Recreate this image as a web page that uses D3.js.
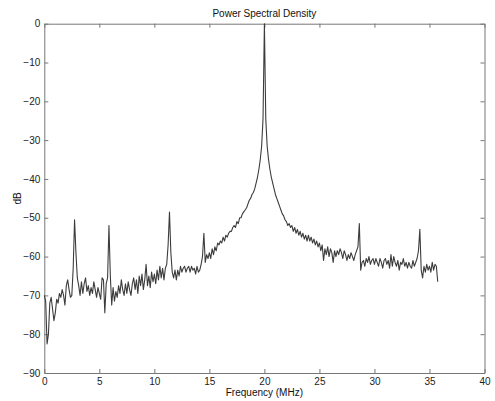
<!DOCTYPE html>
<html>
<head>
<meta charset="utf-8">
<script src="https://cdn.jsdelivr.net/npm/d3@7"></script>
<style>
  body { margin: 0; background: #fff; }
  text { font-family: "Liberation Sans", Arial, Helvetica, sans-serif; }
</style>
</head>
<body>
<div id="chart"></div>
<script>
// Tick values for both axes
var xTicks = [0, 5, 10, 15, 20, 25, 30, 35, 40];
var yTicks = [0, -10, -20, -30, -40, -50, -60, -70, -80, -90];

// PSD samples, one every 0.125 MHz starting at 0 MHz (8 per MHz)
var freqStep = 0.125;
var psdDb = [
  -70.0, -71.5, -82.5, -80.0, -72.0, -70.5, -73.5, -76.5,   // 0
  -74.5, -71.0, -72.0, -69.5, -70.5, -68.5, -70.0, -72.5,   // 1
  -67.5, -66.0, -68.5, -70.5, -70.0, -63.0, -50.5, -59.0,   // 2
  -65.5, -67.5, -70.0, -66.5, -69.5, -67.0, -65.5, -69.0,   // 3
  -67.5, -70.0, -68.0, -69.5, -66.5, -68.5, -70.5, -68.0,   // 4
  -69.5, -71.0, -65.5, -66.0, -74.5, -67.0, -65.5, -52.0,   // 5
  -65.0, -72.5, -68.0, -71.5, -69.0, -70.5, -67.5, -69.5,   // 6
  -66.0, -68.5, -70.0, -67.0, -69.5, -66.5, -68.5, -70.0,   // 7
  -67.0, -65.5, -68.5, -66.0, -69.5, -65.0, -67.5, -64.5,   // 8
  -68.5, -66.0, -62.0, -67.5, -65.0, -68.0, -64.0, -66.5,   // 9
  -64.5, -67.0, -63.5, -66.0, -62.5, -65.5, -63.0, -66.0,   // 10
  -63.0, -62.0, -57.0, -48.5, -59.0, -64.0, -65.5, -63.5,   // 11
  -66.0, -63.5, -65.0, -62.5, -64.0, -63.0, -62.5, -64.0,   // 12
  -63.0, -62.5, -64.0, -62.5, -63.5, -63.0, -64.5, -62.5,   // 13
  -64.0, -63.5, -62.0, -60.0, -54.0, -61.5, -59.5, -60.5,   // 14
  -59.0, -60.5, -58.0, -59.5, -57.5, -58.5, -56.5, -57.0,   // 15
  -56.0, -56.5, -55.0, -56.0, -54.5, -55.0, -54.0, -53.5,   // 16
  -53.5, -52.5, -52.0, -52.5, -51.0, -51.5, -50.0, -50.0,   // 17
  -49.0, -48.5, -48.0, -47.5, -46.5, -45.5, -45.0, -44.0,   // 18
  -43.5, -42.5, -41.0, -39.5, -37.5, -35.0, -31.5, -24.5,   // 19
    0.0, -24.5, -31.5, -35.0, -37.5, -39.5, -41.0, -42.5,   // 20
  -44.0, -45.0, -46.0, -47.0, -48.0, -49.0, -49.5, -50.5,   // 21
  -51.0, -52.0, -51.5, -52.5, -52.0, -53.5, -52.5, -54.0,   // 22
  -53.0, -54.5, -53.5, -55.0, -54.0, -55.5, -54.5, -56.0,   // 23
  -54.5, -56.0, -55.0, -56.5, -55.5, -57.0, -56.0, -57.5,   // 24
  -56.5, -58.5, -57.0, -61.0, -58.0, -59.5, -57.5, -60.0,   // 25
  -58.0, -59.0, -61.5, -58.5, -60.0, -58.5, -59.5, -58.0,   // 26
  -59.0, -60.5, -58.5, -59.5, -61.0, -59.5, -60.5, -59.0,   // 27
  -60.0, -61.0, -59.5, -58.5, -57.5, -51.5, -63.5, -61.5,   // 28
  -61.0, -62.5, -60.5, -61.5, -60.0, -62.0, -61.0, -60.5,   // 29
  -62.0, -60.5, -61.5, -62.5, -60.5, -61.5, -63.0, -61.0,   // 30
  -60.5, -62.0, -61.0, -63.0, -59.5, -62.5, -60.0, -61.5,   // 31
  -62.5, -61.0, -63.5, -61.5, -62.0, -60.5, -62.5, -61.5,   // 32
  -63.0, -61.5, -62.5, -63.0, -61.0, -62.5, -61.5, -60.5,   // 33
  -58.5, -53.0, -63.5, -65.5, -62.5, -64.0, -62.0, -63.5,   // 34
  -62.5, -64.0, -61.5, -63.5, -62.0, -62.5, -66.5           // 35
];

var svgWidth = 495;
var svgHeight = 401;
var plot = { left: 44.3, right: 484.5, top: 23.7, bottom: 373 };

var svg = d3.select("#chart")
  .append("svg")
  .attr("width", svgWidth)
  .attr("height", svgHeight);

svg.append("rect")
  .attr("width", svgWidth)
  .attr("height", svgHeight)
  .attr("fill", "#fff");

var x = d3.scaleLinear().domain([0, 40]).range([plot.left, plot.right]);
var y = d3.scaleLinear().domain([-90, 0]).range([plot.bottom, plot.top]);

var axisColor = "#777";

// MATLAB style: ticks point inwards, box on all four sides
function styleAxis(g) {
  g.select(".domain").attr("stroke", axisColor).attr("stroke-width", 1);
  g.selectAll(".tick line").attr("stroke", axisColor);
  g.selectAll(".tick text")
    .attr("fill", "#222")
    .style("font-size", "10px");
}

svg.append("g")
  .attr("transform", "translate(0," + plot.bottom + ")")
  .call(d3.axisBottom(x).tickValues(xTicks).tickSizeInner(-4).tickSizeOuter(0).tickPadding(5))
  .call(styleAxis);

svg.append("g")
  .attr("transform", "translate(0," + plot.top + ")")
  .call(d3.axisTop(x).tickValues(xTicks).tickSizeInner(-4).tickSizeOuter(0).tickFormat(""))
  .call(styleAxis);

svg.append("g")
  .attr("transform", "translate(" + plot.left + ",0)")
  .call(d3.axisLeft(y).tickValues(yTicks).tickSizeInner(-4).tickSizeOuter(0).tickPadding(4))
  .call(styleAxis);

svg.append("g")
  .attr("transform", "translate(" + plot.right + ",0)")
  .call(d3.axisRight(y).tickValues(yTicks).tickSizeInner(-4).tickSizeOuter(0).tickFormat(""))
  .call(styleAxis);

// the spectrum trace
var line = d3.line()
  .x(function(d, i) { return x(i * freqStep); })
  .y(function(d) { return y(d); });

svg.append("path")
  .datum(psdDb)
  .attr("d", line)
  .attr("fill", "none")
  .attr("stroke", "#3c3c3c")
  .attr("stroke-width", 1.1)
  .attr("stroke-linejoin", "round");

// titles
var midX = (plot.left + plot.right) / 2;
svg.append("text")
  .attr("x", midX)
  .attr("y", 16.5)
  .attr("text-anchor", "middle")
  .style("font-size", "10px")
  .attr("fill", "#111")
  .text("Power Spectral Density");

svg.append("text")
  .attr("x", midX)
  .attr("y", 396)
  .attr("text-anchor", "middle")
  .style("font-size", "10px")
  .attr("fill", "#111")
  .text("Frequency (MHz)");

svg.append("text")
  .attr("transform", "translate(21," + (plot.top + plot.bottom) / 2 + ") rotate(-90)")
  .attr("text-anchor", "middle")
  .style("font-size", "10px")
  .attr("fill", "#111")
  .text("dB");
</script>
</body>
</html>
